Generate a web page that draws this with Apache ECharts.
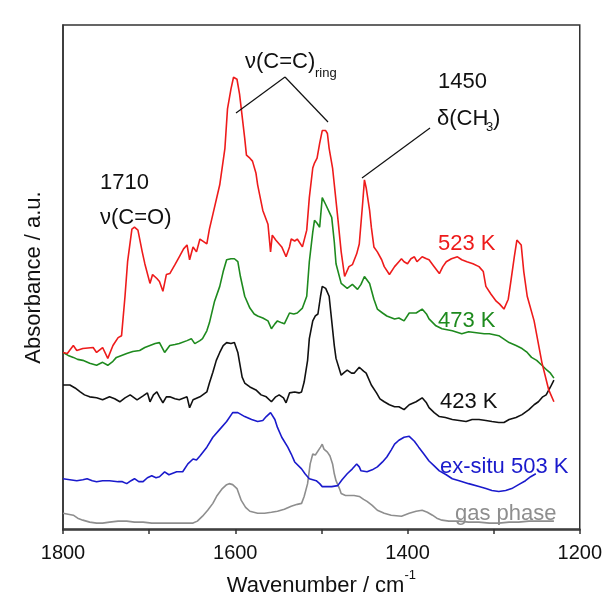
<!DOCTYPE html>
<html>
<head>
<meta charset="utf-8">
<script src="https://cdn.jsdelivr.net/npm/echarts@6/dist/echarts.min.js"></script>
<style>
  html, body { margin: 0; padding: 0; background: #fff; }
  #chart { width: 605px; height: 602px; }
</style>
</head>
<body>
<div id="chart"></div>
<script>
// IR spectra, wavenumber (cm-1) and absorbance (a.u., stacked offsets)
var wn523 = [1800,1795,1788,1784,1777,1765,1761,1754,1748,1742,1736,1732,1728,1725,1720,1717,1713,1708,1705,1699,1696,1691,1688,1684,1680,1676,1670,1665,1660,1656,1653,1649,1645,1641,1633,1630,1626,1618,1612,1609,1605,1602,1598,1595,1593,1589,1587,1583,1580,1576,1574,1571,1568,1562,1559,1557,1553,1551,1546,1541,1537,1535,1531,1528,1522,1517,1514,1510,1508,1505,1502,1499,1495,1493,1491,1487,1484,1481,1477,1473,1468,1464,1459,1456,1452,1450,1448,1444,1442,1439,1435,1430,1427,1421,1415,1410,1407,1404,1400,1396,1392,1389,1383,1378,1375,1369,1363,1359,1355,1349,1342,1337,1331,1324,1317,1312,1309,1303,1297,1293,1288,1283,1280,1276,1273,1271,1268,1265,1261,1253,1244,1236,1230];
var abs523 = [179,178,186,181,183,184,179,184,173,186,194,196,236,271,304,306,303,281,269,249,258,254,251,241,258,259,268,276,284,288,273,286,281,294,289,304,319,349,386,426,446,458,456,441,426,396,379,376,373,361,349,336,323,309,281,298,293,294,286,276,286,294,292,294,286,303,336,366,371,376,391,404,404,401,386,366,341,316,281,256,266,268,279,289,331,354,346,323,306,286,281,273,266,258,266,271,274,271,269,274,276,271,276,274,273,266,259,266,271,274,276,273,271,269,266,261,246,238,231,228,223,233,251,276,293,294,288,261,236,211,169,141,129];

var wn473 = [1800,1794,1788,1783,1777,1769,1761,1754,1748,1742,1738,1732,1726,1719,1711,1705,1699,1693,1688,1682,1676,1670,1665,1656,1651,1647,1641,1638,1633,1630,1624,1618,1614,1610,1605,1601,1597,1594,1589,1583,1578,1574,1568,1562,1558,1554,1551,1546,1543,1537,1532,1528,1522,1517,1514,1510,1508,1505,1502,1499,1495,1493,1488,1485,1483,1477,1470,1464,1458,1454,1450,1444,1439,1435,1429,1424,1415,1410,1404,1398,1390,1383,1378,1375,1367,1360,1348,1337,1329,1320,1311,1305,1294,1282,1274,1267,1261,1256,1250,1244,1238,1234,1230];
var abs473 = [179,176,174,172,171,168,166,169,166,170,174,176,178,180,181,184,186,188,189,179,186,187,188,191,193,188,191,193,201,209,231,246,261,273,274,274,271,256,236,224,218,216,214,211,203,208,211,209,208,219,218,219,224,236,271,301,313,310,306,336,329,331,316,291,269,249,244,248,243,248,256,249,233,223,219,216,213,214,211,219,219,223,218,213,206,203,201,198,200,199,198,198,196,189,186,183,179,174,171,166,161,158,153];

var wn423 = [1800,1792,1786,1780,1775,1769,1761,1754,1746,1740,1734,1728,1722,1714,1707,1702,1699,1695,1691,1688,1684,1680,1676,1670,1665,1656,1653,1649,1641,1633,1630,1626,1622,1618,1614,1610,1605,1601,1597,1595,1592,1589,1583,1576,1570,1564,1558,1553,1549,1544,1541,1537,1531,1526,1523,1520,1516,1514,1510,1507,1504,1501,1499,1495,1493,1491,1488,1485,1483,1477,1473,1470,1465,1462,1456,1451,1448,1442,1436,1432,1427,1421,1415,1410,1404,1398,1390,1383,1378,1375,1369,1363,1356,1348,1340,1332,1325,1317,1309,1302,1294,1288,1282,1274,1267,1259,1253,1248,1243,1239,1234,1230];
var abs423 = [146,146,143,139,136,134,133,131,134,132,129,133,136,131,135,138,129,136,139,134,128,134,134,132,131,134,123,131,134,139,148,159,171,179,186,189,188,189,179,169,154,148,144,141,136,134,129,134,136,133,128,138,139,138,139,149,171,193,211,216,218,236,246,244,246,236,211,186,173,156,159,161,158,158,164,160,158,146,138,132,129,126,124,124,121,126,129,133,128,123,118,114,113,111,110,109,111,111,110,109,108,108,111,113,116,121,126,129,134,136,144,151];

var wnExsitu = [1800,1792,1784,1777,1772,1766,1761,1754,1746,1736,1731,1726,1721,1717,1712,1707,1702,1697,1692,1688,1682,1677,1674,1668,1661,1655,1649,1645,1641,1633,1626,1618,1610,1603,1597,1589,1581,1574,1568,1564,1559,1554,1551,1546,1539,1535,1531,1523,1519,1514,1506,1502,1499,1488,1481,1476,1470,1464,1459,1456,1454,1447,1441,1435,1429,1424,1419,1415,1410,1404,1398,1392,1387,1381,1375,1369,1363,1355,1348,1340,1329,1317,1309,1302,1294,1286,1279,1271,1263,1257,1251];
var absExsitu = [51,50,49,50,51,49,48,49,49,48,48,46,49,51,48,48,52,54,52,53,58,55,56,58,58,66,71,70,74,83,93,101,109,118,118,114,111,109,110,114,118,111,103,93,83,76,68,61,56,51,49,46,43,43,44,50,56,61,66,63,59,58,60,63,68,73,80,86,90,93,94,89,83,76,69,64,59,55,51,49,46,43,41,39,38,39,41,45,49,53,56];

var wnGas = [1800,1794,1788,1783,1777,1769,1761,1754,1746,1736,1726,1717,1707,1697,1688,1676,1668,1659,1649,1644,1638,1632,1626,1621,1615,1610,1607,1603,1598,1593,1588,1583,1574,1566,1558,1551,1543,1535,1528,1523,1520,1516,1513,1510,1507,1505,1501,1499,1497,1493,1490,1487,1485,1483,1479,1477,1472,1468,1462,1456,1451,1447,1441,1435,1427,1419,1407,1398,1390,1383,1377,1371,1366,1360,1352,1340,1329,1317,1305,1294,1282,1271,1259,1248,1230];
var absGas = [16,15,14,11,9,7,6,6,7,8,8,7,7,6,6,6,6,6,6,8,13,19,26,34,41,45,46,45,41,29,22,18,16,16,17,18,20,23,25,26,33,46,66,76,75,76,83,86,81,78,74,66,56,49,41,36,34,34,34,33,30,28,24,19,16,14,13,16,18,19,17,14,11,9,8,8,7,7,6,6,7,7,8,8,8];

var xTicks = [1800, 1600, 1400, 1200];

function pairs(xs, ys) {
    var out = [];
    for (var i = 0; i < xs.length; i++) out.push([xs[i], ys[i]]);
    return out;
}

function spectrum(name, color, xs, ys) {
    return {
        name: name,
        type: 'line',
        data: pairs(xs, ys),
        showSymbol: false,
        symbol: 'none',
        lineStyle: { color: color, width: 1.6 },
        itemStyle: { color: color },
        z: 3
    };
}

var font = 'Liberation Sans, Arial, sans-serif';

function label(text, x, y, color, size) {
    return {
        type: 'text', left: x, top: y, z: 10,
        style: { text: text, fill: color, font: (size || 22) + 'px ' + font }
    };
}
function leader(x1, y1, x2, y2) {
    return {
        type: 'line', z: 10,
        shape: { x1: x1, y1: y1, x2: x2, y2: y2 },
        style: { stroke: '#111', lineWidth: 1.2 }
    };
}

var myChart = echarts.init(document.getElementById('chart'));

var option = {
    backgroundColor: '#fff',
    animation: false,
    grid: {
        left: 63, right: 23, top: 25, bottom: 65,
        show: true, borderColor: '#333', borderWidth: 1.5, backgroundColor: 'transparent'
    },
    xAxis: {
        type: 'value',
        min: 1200, max: 1800, interval: 100,
        inverse: true,
        name: '{a|Wavenumber / cm}{b|-1}',
        nameLocation: 'middle',
        nameGap: 39,
        nameTextStyle: {
            rich: {
                a: { fontSize: 22, fontFamily: font, color: '#111', lineHeight: 28, verticalAlign: 'bottom' },
                b: { fontSize: 13, fontFamily: font, color: '#111', lineHeight: 28, verticalAlign: 'top' }
            }
        },
        axisLine: { show: true, lineStyle: { color: '#333', width: 1.5 } },
        axisTick: { show: true, inside: false, length: 5, lineStyle: { color: '#333', width: 1.5 } },
        axisLabel: {
            margin: 13,
            fontSize: 20,
            fontFamily: font,
            color: '#111',
            formatter: function (v) { return xTicks.indexOf(v) >= 0 ? String(v) : ''; }
        },
        splitLine: { show: false }
    },
    yAxis: {
        type: 'value',
        min: -1, max: 511,
        name: 'Absorbance / a.u.',
        nameLocation: 'middle',
        nameGap: 18,
        nameTextStyle: { fontSize: 22, fontFamily: font, color: '#111' },
        axisLine: { show: true, lineStyle: { color: '#333', width: 1.5 } },
        axisTick: { show: false },
        axisLabel: { show: false },
        splitLine: { show: false }
    },
    series: [
        spectrum('gas phase', '#8e8e8e', wnGas, absGas),
        spectrum('ex-situ 503 K', '#1a1acc', wnExsitu, absExsitu),
        spectrum('423 K', '#111111', wn423, abs423),
        spectrum('473 K', '#1e8a1e', wn473, abs473),
        spectrum('523 K', '#ee1b1b', wn523, abs523)
    ],
    graphic: [
        label('1710', 100, 172, '#111'),
        label('\u03bd(C=O)', 100, 207, '#111'),
        label('\u03bd(C=C)', 245, 51, '#111'),
        label('ring', 315, 67, '#111', 13),
        leader(285, 77, 236, 113),
        leader(285, 77, 328, 122),
        label('1450', 438, 71, '#111'),
        label('\u03b4(CH', 437, 108, '#111'),
        label('3', 486, 121, '#111', 13),
        label(')', 493, 108, '#111'),
        leader(430, 128, 362, 178),
        label('523 K', 438, 233, '#ee1b1b'),
        label('473 K', 438, 310, '#1e8a1e'),
        label('423 K', 440, 391, '#111'),
        label('ex-situ 503 K', 440, 456, '#1a1acc'),
        label('gas phase', 455, 503, '#8e8e8e')
    ]
};
myChart.setOption(option);
</script>
</body>
</html>
